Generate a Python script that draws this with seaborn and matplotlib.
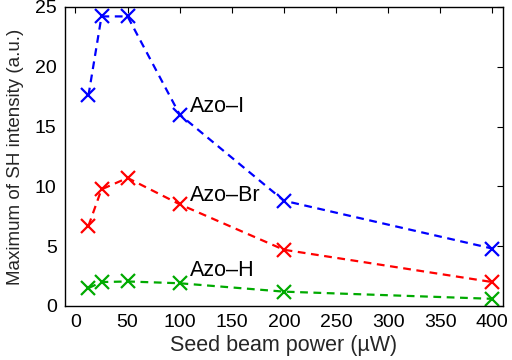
import matplotlib
matplotlib.use("Agg")
import matplotlib.pyplot as plt
import seaborn as sns
import pandas as pd

power = [12.5, 25, 50, 100, 200, 400]
azo_i = [17.6, 24.2, 24.2, 16.0, 8.8, 4.8]
azo_br = [6.7, 9.75, 10.7, 8.5, 4.7, 2.0]
azo_h = [1.5, 2.0, 2.05, 1.9, 1.2, 0.6]
series_names = ["Azo\u2013I", "Azo\u2013Br", "Azo\u2013H"]
colors = ["#0000ff", "#ff0000", "#00aa00"]
label_y = [16.7, 9.25, 3.0]
x_ticks = [0, 50, 100, 150, 200, 250, 300, 350, 400]
y_ticks = [0, 5, 10, 15, 20, 25]

sns.set_theme(style="white")
plt.rcParams['font.family'] = ['Liberation Sans', 'DejaVu Sans']

df = pd.concat([
    pd.DataFrame({"power": power, "value": vals, "series": name})
    for name, vals in zip(series_names, [azo_i, azo_br, azo_h])
])

fig = plt.figure(figsize=(5.12, 3.6), dpi=100)
ax = fig.add_axes([0.127, 0.15, 0.855, 0.831])

for name, col in zip(series_names, colors):
    sub = df[df["series"] == name]
    sns.lineplot(data=sub, x="power", y="value", ax=ax, color=col,
                 linestyle=(0, (3.5, 2.5)), linewidth=1.6, marker="x",
                 markersize=10, markeredgewidth=1.6, markeredgecolor=col,
                 legend=False)

for name, ly in zip(series_names, label_y):
    ax.text(110, ly, name, fontsize=15.5, va="center", ha="left", color="black")

ax.set_xlim(-10, 410)
ax.set_ylim(0, 25)
ax.set_xticks(x_ticks)
ax.set_yticks(y_ticks)
ax.tick_params(direction="in", top=True, right=True, labelsize=14, length=4,
               width=0.8, colors="black", pad=6)
for s in ax.spines.values():
    s.set_visible(True)
    s.set_color("black")
    s.set_linewidth(1.0)
ax.set_xlabel("Seed beam power (\u00b5W)", fontsize=15.5, labelpad=3)
ax.set_ylabel("Maximum of SH intensity (a.u.)", fontsize=13.5, labelpad=8)

fig.savefig("out.png", dpi=100)
